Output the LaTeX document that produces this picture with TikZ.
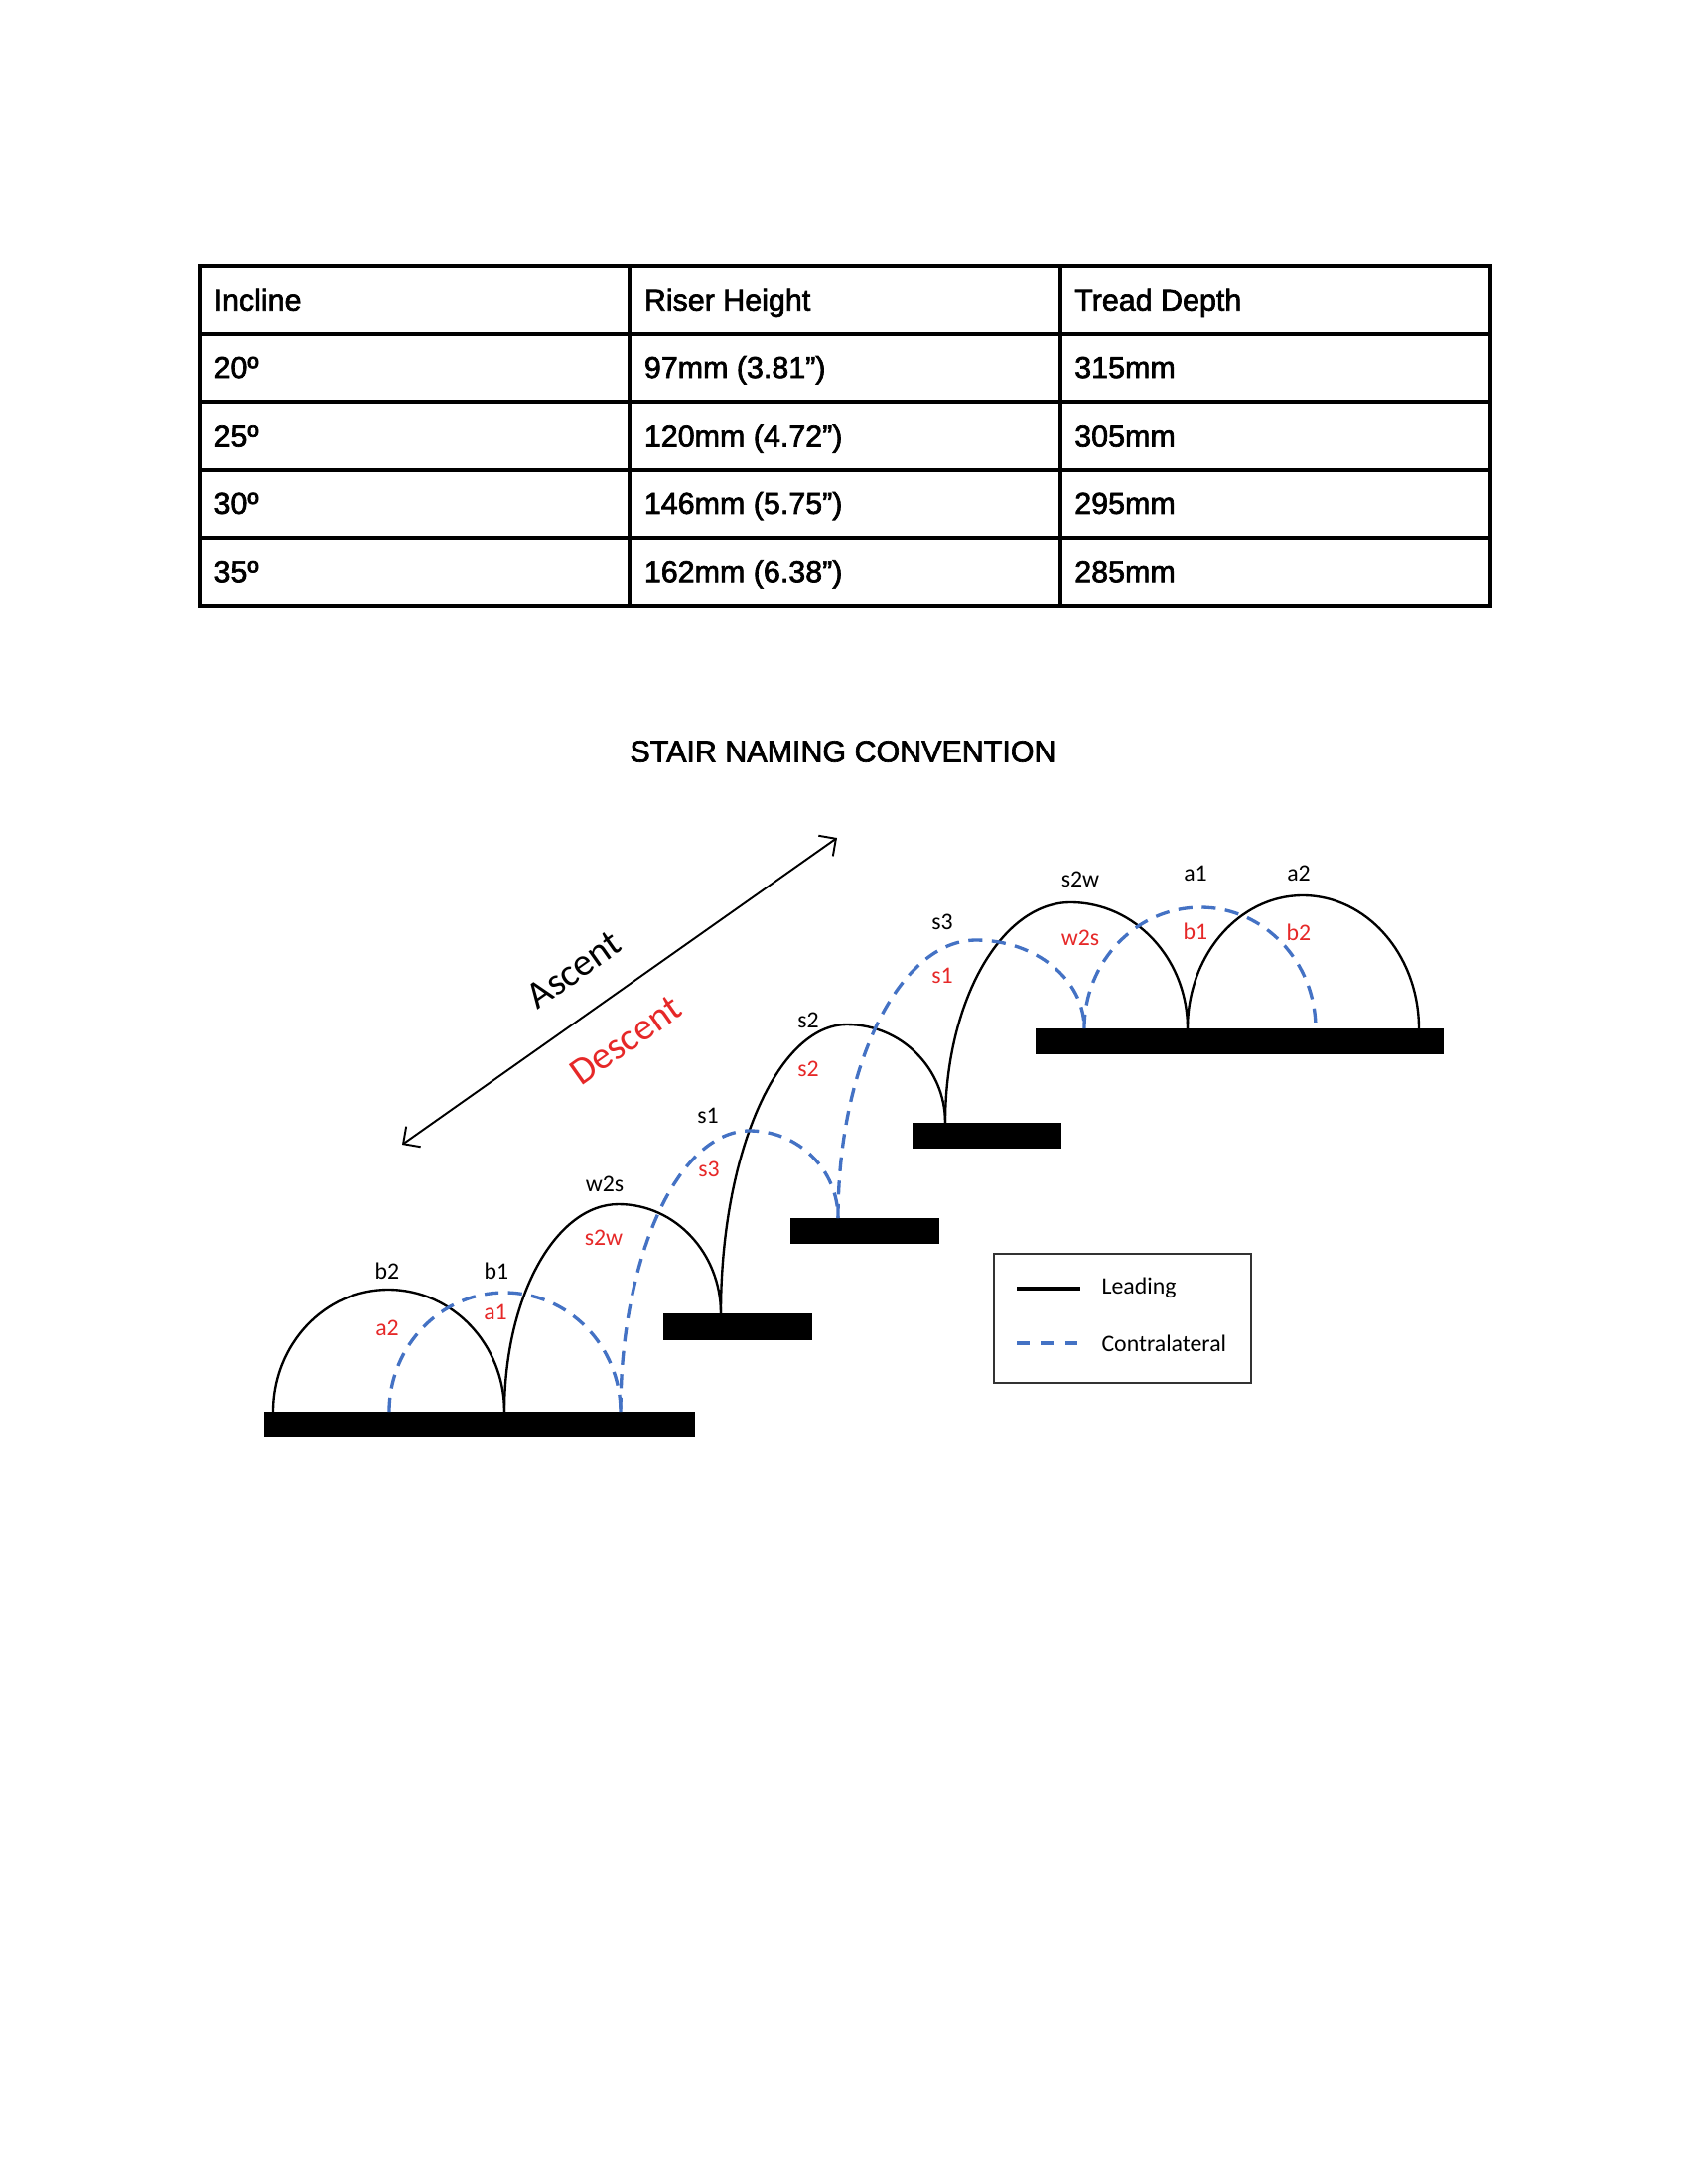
\documentclass[tikz,border=0pt]{standalone}
\usepackage{fontspec}
\setmainfont{Liberation Sans}
\newfontfamily\heavyfont{Liberation Sans}[FakeBold=2.2]
\newfontfamily\calibri{Carlito}
\usetikzlibrary{calc}
\usetikzlibrary{fit}
\usetikzlibrary{arrows.meta}
\definecolor{contrablue}{RGB}{68,114,196}
\definecolor{tagred}{RGB}{230,40,40}

\begin{document}
\begin{tikzpicture}[
  x=0.127mm, y=-0.127mm,
  cell/.style={anchor=base west, inner sep=0pt, font=\heavyfont\fontsize{11}{13}\selectfont},
  grid/.style={line width=1.45pt, line cap=rect},
  tread/.style={fill=black, inner sep=0pt, outer sep=0pt},
  lead/.style={black, line width=0.85pt},
  contra/.style={contrablue, line width=1.2pt, dash pattern=on 1.8mm off 1.2mm},
  tag/.style={inner sep=0pt, font=\calibri\fontsize{8.6}{10}\selectfont},
  redtag/.style={tag, text=tagred},
  arr/.style={line width=0.7pt, {Straight Barb[length=1.6mm,width=3.2mm]}-{Straight Barb[length=1.6mm,width=3.2mm]}},
]
\useasboundingbox (0,0) rectangle (1700,2200);

% table
\draw[grid] (201,268) rectangle (1501,610);
\foreach \r in {1,...,4} {
  \draw[grid] (201,268+68.4*\r) -- (1501,268+68.4*\r);
}
\draw[grid] (634.3,268) -- (634.3,610);
\draw[grid] (1067.7,268) -- (1067.7,610);

\foreach [count=\r from 0] \inc/\rise/\dep in {Incline/Riser Height/Tread Depth,
    20º/97mm (3.81”)/315mm, 25º/120mm (4.72”)/305mm,
    30º/146mm (5.75”)/295mm, 35º/162mm (6.38”)/285mm} {
  \node (inc\r) [cell] at (215, 312.7+68.4*\r) {\inc};
  \node (rise\r) [cell] at (648.3, 312.7+68.4*\r) {\rise};
  \node (dep\r) [cell] at (1081.7, 312.7+68.4*\r) {\dep};
}

\node (title) [font=\heavyfont\fontsize{11}{13}\selectfont] at (849,757) {STAIR NAMING CONVENTION};

% treads
\node (t1) [tread, fit={(266,1422) (700,1448)}] {};
\node (t2) [tread, fit={(668,1323) (818,1350)}] {};
\node (t3) [tread, fit={(796,1227) (946,1253)}] {};
\node (t4) [tread, fit={(919,1131) (1069,1157)}] {};
\node (t5) [tread, fit={(1043,1036) (1454,1062)}] {};

% leading foot
\coordinate (l0) at (275,1422);
\coordinate (l1) at (508,1422);
\coordinate (l2) at (726,1323);
\coordinate (l3) at (952,1131);
\coordinate (l4) at (1196,1036);
\coordinate (l5) at (1429,1036);
\coordinate (lp1) at (391,1299);
\coordinate (lp2) at (623,1213);
\coordinate (lp3) at (853,1032);
\coordinate (lp4) at (1078,909);
\coordinate (lp5) at (1312,902);

% contralateral foot
\coordinate (c0) at (392,1422);
\coordinate (c1) at (625,1422);
\coordinate (c2) at (844,1227);
\coordinate (c3) at (1092,1036);
\coordinate (c4) at (1325,1036);
\coordinate (cp1) at (508,1302);
\coordinate (cp2) at (755,1139);
\coordinate (cp3) at (983,947);
\coordinate (cp4) at (1209,914);

\foreach [evaluate={\j=int(\i-1)}] \i in {1,...,5} {
  \draw[lead] (l\j) .. controls ($(l\j)!0.552!(l\j|-lp\i)$) and ($(lp\i)!0.552!(l\j|-lp\i)$) .. (lp\i)
    .. controls ($(lp\i)!0.552!(l\i|-lp\i)$) and ($(l\i)!0.552!(l\i|-lp\i)$) .. (l\i);
}
\foreach [evaluate={\j=int(\i-1)}] \i in {1,...,4} {
  \draw[contra] (c\j) .. controls ($(c\j)!0.552!(c\j|-cp\i)$) and ($(cp\i)!0.552!(c\j|-cp\i)$) .. (cp\i)
    .. controls ($(cp\i)!0.552!(c\i|-cp\i)$) and ($(c\i)!0.552!(c\i|-cp\i)$) .. (c\i);
}

\foreach \t/\x/\y in {b2/390/1280, b1/500/1280, w2s/609/1193, s1/713/1124, s2/814/1028,
    s3/949/929, s2w/1088/886, a1/1204/880, a2/1308/880} {
  \node (lt\t) [tag] at (\x,\y) {\t};
}
\foreach \t/\x/\y in {a2/390/1338, a1/499/1322, s2w/608/1247, s3/714/1178, s2/814/1077,
    s1/949/983, w2s/1088/945, b1/1204/938, b2/1308/939} {
  \node (ct\t) [redtag] at (\x,\y) {\t};
}

% direction
\coordinate (down) at (405,1153);
\coordinate (up) at (843,844);
\draw[arr] (down) -- (up);
\node (asc) [rotate=35.2, inner sep=0pt, font=\calibri\fontsize{14}{16}\selectfont] at (578,977) {Ascent};
\node (desc) [rotate=35.2, inner sep=0pt, text=tagred, font=\calibri\fontsize{14}{16}\selectfont] at (630,1048) {Descent};

% legend
\node (legend) [draw=black!80, line width=0.5pt, inner sep=0pt, fit={(1001,1263) (1260,1393)}] {};
\coordinate (k1a) at (1024,1298);
\coordinate (k1b) at (1088,1298);
\coordinate (k2a) at (1024,1353);
\coordinate (k2b) at (1088,1353);
\draw[lead, line width=1.2pt] (k1a) -- (k1b);
\draw[contra, dash pattern=on 1.6mm off 1.5mm] (k2a) -- (k2b);
\node (kl) [tag, anchor=west] at (1109,1297) {Leading};
\node (kc) [tag, anchor=west] at (1109,1353) {Contralateral};
\end{tikzpicture}
\end{document}
